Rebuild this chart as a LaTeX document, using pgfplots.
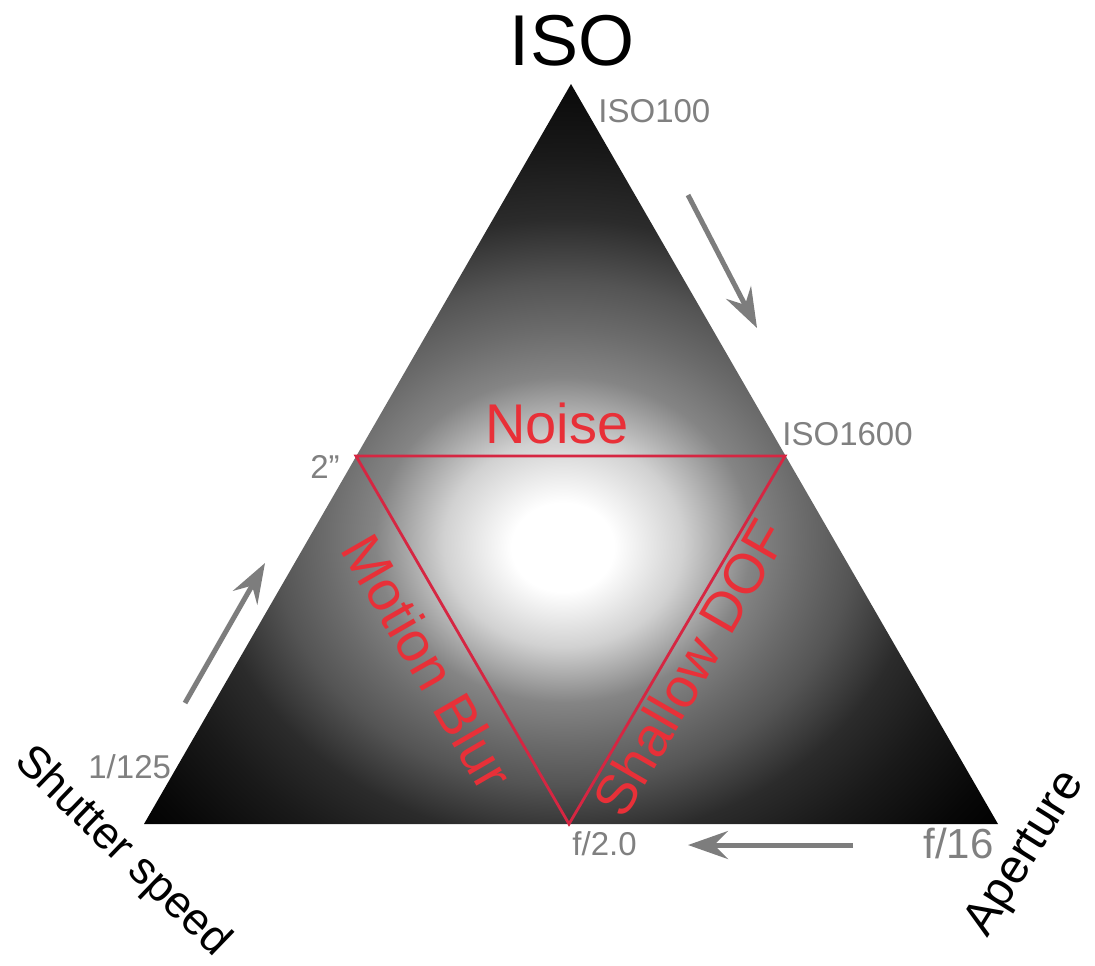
\documentclass[border=0pt]{standalone}
\usepackage{fontspec}
\setmainfont{Liberation Sans}
\usepackage{pgfplots}
\pgfplotsset{compat=1.18}
\usetikzlibrary{arrows.meta}

\definecolor{lblgray}{RGB}{128,128,128}
\definecolor{arrgray}{RGB}{125,125,125}
\definecolor{redline}{RGB}{214,38,66}
\definecolor{redtext}{RGB}{232,48,56}

% white spot a bit below the middle of the triangle
\pgfdeclareradialshading{expo}{\pgfpoint{-0.5bp}{-6.5bp}}{%
  color(0bp)=(white); color(3bp)=(white); color(7bp)=(black!18);
  color(11bp)=(black!48); color(14bp)=(black!58); color(17bp)=(black!67);
  color(21bp)=(black!83); color(25bp)=(black!90); color(30bp)=(black!97);
  color(33bp)=(black); color(100bp)=(black)}

\newcommand{\fs}[1]{\fontsize{#1pt}{#1pt}\selectfont}

\begin{document}
\begin{tikzpicture}
\begin{axis}[name=ax, width=547.5pt, height=482.5pt, scale only axis, hide axis,
  xmin=0, xmax=1095, ymin=0, ymax=965, y dir=reverse, clip=false]

% outer triangle
\addplot[draw=none, shade, shading=expo] coordinates {(571,84) (998,824) (144,824)} -- cycle;

% inner triangle
\addplot[redline, line width=1.4pt, line join=miter] coordinates {(356,456) (785,456) (569,824)} -- cycle;

% arrows
\addplot[arrgray, line width=2.5pt, -{Stealth[length=20pt, width=14pt, inset=7pt]}] coordinates {(688,195) (757,328)};
\addplot[arrgray, line width=2.5pt, -{Stealth[length=20pt, width=14pt, inset=7pt]}] coordinates {(185,703) (265,563)};
\addplot[arrgray, line width=2.5pt, -{Stealth[length=20pt, width=14pt, inset=7pt]}] coordinates {(853,845) (688,845)};

% corner titles
\node[anchor=base, font=\fs{36}] at (axis cs:572,65) {ISO};
\node[rotate=-44, font=\fs{22.5}] at (axis cs:122,852) {Shutter speed};
\node[rotate=58, font=\fs{24}] at (axis cs:1026,854) {Aperture};

% scale labels
\begin{scope}[every node/.style={inner sep=0pt, lblgray, font=\fs{16.5}}]
\node[anchor=base west] at (axis cs:598,122) {ISO100};
\node[anchor=base west] at (axis cs:782,445) {ISO1600};
\node[anchor=base east] at (axis cs:340,478) {2”};
\node[anchor=base west] at (axis cs:88,778) {1/125};
\node[anchor=base west] at (axis cs:572,855) {f/2.0};
\node[anchor=base west, font=\fs{21}] at (axis cs:923,858) {f/16};
\end{scope}

% effects
\node[anchor=base, redtext, font=\fs{28}] at (axis cs:557,443) {Noise};
\node[rotate=-60, redtext, font=\fs{28}] at (axis cs:428,662) {Motion Blur};
\node[rotate=60, redtext, font=\fs{28}] at (axis cs:690,668) {Shallow DOF};

\end{axis}
\pgfresetboundingbox
\path (ax.south west) rectangle (ax.north east);
\end{tikzpicture}
\end{document}
